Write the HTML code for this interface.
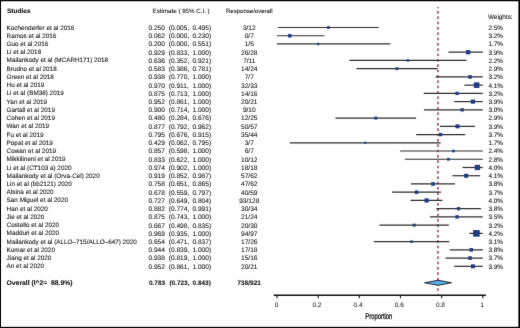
<!DOCTYPE html><html><head><meta charset="utf-8"><style>html,body{margin:0;padding:0;background:#fff;overflow:hidden}svg{display:block;will-change:transform}text{font-family:"Liberation Sans",sans-serif;fill:#111;stroke:#111;stroke-width:0.08px;text-rendering:geometricPrecision}</style></head><body>
<svg width="520" height="328" viewBox="0 0 520 328">
<defs><filter id="bl" x="0" y="0" width="1" height="1" color-interpolation-filters="sRGB"><feConvolveMatrix order="3" kernelMatrix="0.0053 0.0623 0.0053 0.0623 0.7296 0.0623 0.0053 0.0623 0.0053" edgeMode="duplicate" preserveAlpha="true"/></filter></defs><g filter="url(#bl)">
<rect x="0" y="0" width="520" height="328" fill="#000"/>
<rect x="1" y="1.25" width="517.4" height="325.6" fill="#fff"/>
<text x="6.9" y="12.5" font-size="6.55" font-weight="bold">Studies</text>
<text x="152.6" y="12.6" font-size="6.2">Estimate ( 95% C.I. )</text>
<text x="249.3" y="12.5" font-size="6.06" text-anchor="middle">Response/overall</text>
<text x="488.0" y="19.4" font-size="6.35">Weights:</text>
<line x1="437.9" y1="7.0" x2="437.9" y2="294.6" stroke="#bf2f5e" stroke-width="1.5" stroke-dasharray="2.667 2.667" stroke-dashoffset="1.33"/>
<text x="6.6" y="29.55" font-size="6.35">Kochenderfer et al 2016</text>
<text x="148.4" y="29.90" font-size="6.6">0.250</text>
<text x="168.7" y="29.90" font-size="6.6">(0.005,</text>
<text x="192.4" y="29.90" font-size="6.6">0.495)</text>
<text x="249.3" y="29.90" font-size="6.6" text-anchor="middle">3/12</text>
<text x="488.4" y="29.90" font-size="6.45">2.5%</text>
<line x1="278.03" y1="27.50" x2="378.87" y2="27.50" stroke="#2e2e2e" stroke-width="1.2"/>
<rect x="327.05" y="26.10" width="2.80" height="2.80" fill="#213d82"/>
<text x="6.6" y="37.78" font-size="6.35">Ramos et al 2016</text>
<text x="148.4" y="38.13" font-size="6.6">0.062</text>
<text x="168.7" y="38.13" font-size="6.6">(0.000,</text>
<text x="192.4" y="38.13" font-size="6.6">0.230)</text>
<text x="249.3" y="38.13" font-size="6.6" text-anchor="middle">0/7</text>
<text x="488.4" y="38.13" font-size="6.45">3.2%</text>
<line x1="277.00" y1="35.73" x2="324.33" y2="35.73" stroke="#2e2e2e" stroke-width="1.2"/>
<rect x="287.96" y="33.94" width="3.60" height="3.60" fill="#213d82"/>
<text x="6.6" y="46.02" font-size="6.35">Guo et al 2016</text>
<text x="148.4" y="46.37" font-size="6.6">0.200</text>
<text x="168.7" y="46.37" font-size="6.6">(0.000,</text>
<text x="192.4" y="46.37" font-size="6.6">0.551)</text>
<text x="249.3" y="46.37" font-size="6.6" text-anchor="middle">1/5</text>
<text x="488.4" y="46.37" font-size="6.45">1.7%</text>
<line x1="277.00" y1="43.97" x2="390.40" y2="43.97" stroke="#2e2e2e" stroke-width="1.2"/>
<rect x="316.96" y="42.77" width="2.40" height="2.40" fill="#213d82"/>
<text x="6.6" y="54.25" font-size="6.35">Li et al 2018</text>
<text x="148.4" y="54.60" font-size="6.6">0.929</text>
<text x="168.7" y="54.60" font-size="6.6">(0.833,</text>
<text x="192.4" y="54.60" font-size="6.6">1.000)</text>
<text x="249.3" y="54.60" font-size="6.6" text-anchor="middle">26/28</text>
<text x="488.4" y="54.60" font-size="6.45">3.9%</text>
<line x1="448.43" y1="52.20" x2="482.80" y2="52.20" stroke="#2e2e2e" stroke-width="1.2"/>
<rect x="466.04" y="50.05" width="4.30" height="4.30" fill="#213d82"/>
<text x="6.6" y="62.49" font-size="6.35">Mailankody et al (MCARH171) 2018</text>
<text x="148.4" y="62.84" font-size="6.6">0.636</text>
<text x="168.7" y="62.84" font-size="6.6">(0.352,</text>
<text x="192.4" y="62.84" font-size="6.6">0.921)</text>
<text x="249.3" y="62.84" font-size="6.6" text-anchor="middle">7/11</text>
<text x="488.4" y="62.84" font-size="6.45">2.2%</text>
<line x1="349.44" y1="60.44" x2="466.54" y2="60.44" stroke="#2e2e2e" stroke-width="1.2"/>
<rect x="406.64" y="59.19" width="2.50" height="2.50" fill="#213d82"/>
<text x="6.6" y="70.72" font-size="6.35">Brudno et al 2018</text>
<text x="148.4" y="71.08" font-size="6.6">0.583</text>
<text x="168.7" y="71.08" font-size="6.6">(0.386,</text>
<text x="192.4" y="71.08" font-size="6.6">0.781)</text>
<text x="249.3" y="71.08" font-size="6.6" text-anchor="middle">14/24</text>
<text x="488.4" y="71.08" font-size="6.45">2.9%</text>
<line x1="356.44" y1="68.67" x2="437.73" y2="68.67" stroke="#2e2e2e" stroke-width="1.2"/>
<rect x="395.53" y="67.22" width="2.90" height="2.90" fill="#213d82"/>
<text x="6.6" y="78.96" font-size="6.35">Green et al 2018</text>
<text x="148.4" y="79.31" font-size="6.6">0.938</text>
<text x="168.7" y="79.31" font-size="6.6">(0.770,</text>
<text x="192.4" y="79.31" font-size="6.6">1.000)</text>
<text x="249.3" y="79.31" font-size="6.6" text-anchor="middle">7/7</text>
<text x="488.4" y="79.31" font-size="6.45">3.2%</text>
<line x1="435.47" y1="76.91" x2="482.80" y2="76.91" stroke="#2e2e2e" stroke-width="1.2"/>
<rect x="468.24" y="75.11" width="3.60" height="3.60" fill="#213d82"/>
<text x="6.6" y="87.19" font-size="6.35">Hu et al 2019</text>
<text x="148.4" y="87.55" font-size="6.6">0.970</text>
<text x="168.7" y="87.55" font-size="6.6">(0.911,</text>
<text x="192.4" y="87.55" font-size="6.6">1.000)</text>
<text x="249.3" y="87.55" font-size="6.6" text-anchor="middle">32/33</text>
<text x="488.4" y="87.55" font-size="6.45">4.1%</text>
<line x1="464.48" y1="85.14" x2="482.80" y2="85.14" stroke="#2e2e2e" stroke-width="1.2"/>
<rect x="473.83" y="82.34" width="5.60" height="5.60" fill="#213d82"/>
<text x="6.6" y="95.43" font-size="6.35">Li et al (BM38) 2019</text>
<text x="148.4" y="95.78" font-size="6.6">0.875</text>
<text x="168.7" y="95.78" font-size="6.6">(0.713,</text>
<text x="192.4" y="95.78" font-size="6.6">1.000)</text>
<text x="249.3" y="95.78" font-size="6.6" text-anchor="middle">14/16</text>
<text x="488.4" y="95.78" font-size="6.45">3.2%</text>
<line x1="423.74" y1="93.38" x2="482.80" y2="93.38" stroke="#2e2e2e" stroke-width="1.2"/>
<rect x="455.43" y="91.73" width="3.30" height="3.30" fill="#213d82"/>
<text x="6.6" y="103.66" font-size="6.35">Yan et al 2019</text>
<text x="148.4" y="104.02" font-size="6.6">0.952</text>
<text x="168.7" y="104.02" font-size="6.6">(0.861,</text>
<text x="192.4" y="104.02" font-size="6.6">1.000)</text>
<text x="249.3" y="104.02" font-size="6.6" text-anchor="middle">20/21</text>
<text x="488.4" y="104.02" font-size="6.45">3.9%</text>
<line x1="454.19" y1="101.61" x2="482.80" y2="101.61" stroke="#2e2e2e" stroke-width="1.2"/>
<rect x="470.82" y="99.52" width="4.20" height="4.20" fill="#213d82"/>
<text x="6.6" y="111.90" font-size="6.35">Gartall et al 2019</text>
<text x="148.4" y="112.25" font-size="6.6">0.900</text>
<text x="168.7" y="112.25" font-size="6.6">(0.714,</text>
<text x="192.4" y="112.25" font-size="6.6">1.000)</text>
<text x="249.3" y="112.25" font-size="6.6" text-anchor="middle">9/10</text>
<text x="488.4" y="112.25" font-size="6.45">3.0%</text>
<line x1="423.94" y1="109.85" x2="482.80" y2="109.85" stroke="#2e2e2e" stroke-width="1.2"/>
<rect x="460.57" y="108.20" width="3.30" height="3.30" fill="#213d82"/>
<text x="6.6" y="120.13" font-size="6.35">Cohen et al 2019</text>
<text x="148.4" y="120.48" font-size="6.6">0.480</text>
<text x="168.7" y="120.48" font-size="6.6">(0.284,</text>
<text x="192.4" y="120.48" font-size="6.6">0.676)</text>
<text x="249.3" y="120.48" font-size="6.6" text-anchor="middle">12/25</text>
<text x="488.4" y="120.48" font-size="6.45">2.9%</text>
<line x1="335.45" y1="118.08" x2="416.12" y2="118.08" stroke="#2e2e2e" stroke-width="1.2"/>
<rect x="374.28" y="116.58" width="3.00" height="3.00" fill="#213d82"/>
<text x="6.6" y="128.37" font-size="6.35">Wan et al 2019</text>
<text x="148.4" y="128.72" font-size="6.6">0.877</text>
<text x="168.7" y="128.72" font-size="6.6">(0.792,</text>
<text x="192.4" y="128.72" font-size="6.6">0.962)</text>
<text x="249.3" y="128.72" font-size="6.6" text-anchor="middle">50/57</text>
<text x="488.4" y="128.72" font-size="6.45">3.9%</text>
<line x1="439.99" y1="126.32" x2="474.98" y2="126.32" stroke="#2e2e2e" stroke-width="1.2"/>
<rect x="455.49" y="124.32" width="4.00" height="4.00" fill="#213d82"/>
<text x="6.6" y="136.61" font-size="6.35">Fu et al 2019</text>
<text x="148.4" y="136.96" font-size="6.6">0.795</text>
<text x="168.7" y="136.96" font-size="6.6">(0.676,</text>
<text x="192.4" y="136.96" font-size="6.6">0.915)</text>
<text x="249.3" y="136.96" font-size="6.6" text-anchor="middle">35/44</text>
<text x="488.4" y="136.96" font-size="6.45">3.7%</text>
<line x1="416.12" y1="134.56" x2="465.31" y2="134.56" stroke="#2e2e2e" stroke-width="1.2"/>
<rect x="438.96" y="132.91" width="3.30" height="3.30" fill="#213d82"/>
<text x="6.6" y="144.84" font-size="6.35">Popat et al 2019</text>
<text x="148.4" y="145.19" font-size="6.6">0.429</text>
<text x="168.7" y="145.19" font-size="6.6">(0.062,</text>
<text x="192.4" y="145.19" font-size="6.6">0.795)</text>
<text x="249.3" y="145.19" font-size="6.6" text-anchor="middle">3/7</text>
<text x="488.4" y="145.19" font-size="6.45">1.7%</text>
<line x1="289.76" y1="142.79" x2="440.61" y2="142.79" stroke="#2e2e2e" stroke-width="1.2"/>
<rect x="364.19" y="141.69" width="2.20" height="2.20" fill="#213d82"/>
<text x="6.6" y="153.07" font-size="6.35">Cowan et al 2019</text>
<text x="148.4" y="153.42" font-size="6.6">0.857</text>
<text x="168.7" y="153.42" font-size="6.6">(0.598,</text>
<text x="192.4" y="153.42" font-size="6.6">1.000)</text>
<text x="249.3" y="153.42" font-size="6.6" text-anchor="middle">6/7</text>
<text x="488.4" y="153.42" font-size="6.45">2.4%</text>
<line x1="400.07" y1="151.02" x2="482.80" y2="151.02" stroke="#2e2e2e" stroke-width="1.2"/>
<rect x="452.07" y="149.72" width="2.60" height="2.60" fill="#213d82"/>
<text x="6.6" y="161.31" font-size="6.35">Mikkilineni et al 2019</text>
<text x="148.4" y="161.66" font-size="6.6">0.833</text>
<text x="168.7" y="161.66" font-size="6.6">(0.622,</text>
<text x="192.4" y="161.66" font-size="6.6">1.000)</text>
<text x="249.3" y="161.66" font-size="6.6" text-anchor="middle">10/12</text>
<text x="488.4" y="161.66" font-size="6.45">2.8%</text>
<line x1="405.01" y1="159.26" x2="482.80" y2="159.26" stroke="#2e2e2e" stroke-width="1.2"/>
<rect x="447.08" y="157.91" width="2.70" height="2.70" fill="#213d82"/>
<text x="6.6" y="169.55" font-size="6.35">Li et al (CT103 a) 2020</text>
<text x="148.4" y="169.90" font-size="6.6">0.974</text>
<text x="168.7" y="169.90" font-size="6.6">(0.902,</text>
<text x="192.4" y="169.90" font-size="6.6">1.000)</text>
<text x="249.3" y="169.90" font-size="6.6" text-anchor="middle">18/18</text>
<text x="488.4" y="169.90" font-size="6.45">4.0%</text>
<line x1="462.63" y1="167.50" x2="482.80" y2="167.50" stroke="#2e2e2e" stroke-width="1.2"/>
<rect x="474.80" y="164.84" width="5.30" height="5.30" fill="#213d82"/>
<text x="6.6" y="177.78" font-size="6.35">Mailankody et al (Orva-Cel) 2020</text>
<text x="148.4" y="178.13" font-size="6.6">0.919</text>
<text x="168.7" y="178.13" font-size="6.6">(0.852,</text>
<text x="192.4" y="178.13" font-size="6.6">0.987)</text>
<text x="249.3" y="178.13" font-size="6.6" text-anchor="middle">57/62</text>
<text x="488.4" y="178.13" font-size="6.45">4.1%</text>
<line x1="452.34" y1="175.73" x2="480.12" y2="175.73" stroke="#2e2e2e" stroke-width="1.2"/>
<rect x="464.08" y="173.68" width="4.10" height="4.10" fill="#213d82"/>
<text x="6.6" y="186.01" font-size="6.35">Lin et al (bb2121) 2020</text>
<text x="148.4" y="186.36" font-size="6.6">0.758</text>
<text x="168.7" y="186.36" font-size="6.6">(0.651,</text>
<text x="192.4" y="186.36" font-size="6.6">0.865)</text>
<text x="249.3" y="186.36" font-size="6.6" text-anchor="middle">47/62</text>
<text x="488.4" y="186.36" font-size="6.45">3.8%</text>
<line x1="410.98" y1="183.96" x2="455.02" y2="183.96" stroke="#2e2e2e" stroke-width="1.2"/>
<rect x="431.20" y="182.16" width="3.60" height="3.60" fill="#213d82"/>
<text x="6.6" y="194.25" font-size="6.35">Alsina et al 2020</text>
<text x="148.4" y="194.60" font-size="6.6">0.678</text>
<text x="168.7" y="194.60" font-size="6.6">(0.559,</text>
<text x="192.4" y="194.60" font-size="6.6">0.797)</text>
<text x="249.3" y="194.60" font-size="6.6" text-anchor="middle">40/59</text>
<text x="488.4" y="194.60" font-size="6.45">3.7%</text>
<line x1="392.04" y1="192.20" x2="441.02" y2="192.20" stroke="#2e2e2e" stroke-width="1.2"/>
<rect x="414.78" y="190.45" width="3.50" height="3.50" fill="#213d82"/>
<text x="6.6" y="202.49" font-size="6.35">San Miguel et al 2020</text>
<text x="148.4" y="202.84" font-size="6.6">0.727</text>
<text x="168.7" y="202.84" font-size="6.6">(0.649,</text>
<text x="192.4" y="202.84" font-size="6.6">0.804)</text>
<text x="249.3" y="202.84" font-size="6.6" text-anchor="middle">93/128</text>
<text x="488.4" y="202.84" font-size="6.45">4.0%</text>
<line x1="410.56" y1="200.44" x2="442.46" y2="200.44" stroke="#2e2e2e" stroke-width="1.2"/>
<rect x="424.52" y="198.34" width="4.20" height="4.20" fill="#213d82"/>
<text x="6.6" y="210.72" font-size="6.35">Han et al 2020</text>
<text x="148.4" y="211.07" font-size="6.6">0.882</text>
<text x="168.7" y="211.07" font-size="6.6">(0.774,</text>
<text x="192.4" y="211.07" font-size="6.6">0.991)</text>
<text x="249.3" y="211.07" font-size="6.6" text-anchor="middle">30/34</text>
<text x="488.4" y="211.07" font-size="6.45">3.8%</text>
<line x1="436.29" y1="208.67" x2="480.95" y2="208.67" stroke="#2e2e2e" stroke-width="1.2"/>
<rect x="456.87" y="207.02" width="3.30" height="3.30" fill="#213d82"/>
<text x="6.6" y="218.95" font-size="6.35">Jie et al 2020</text>
<text x="148.4" y="219.30" font-size="6.6">0.875</text>
<text x="168.7" y="219.30" font-size="6.6">(0.743,</text>
<text x="192.4" y="219.30" font-size="6.6">1.000)</text>
<text x="249.3" y="219.30" font-size="6.6" text-anchor="middle">21/24</text>
<text x="488.4" y="219.30" font-size="6.45">3.5%</text>
<line x1="429.91" y1="216.90" x2="482.80" y2="216.90" stroke="#2e2e2e" stroke-width="1.2"/>
<rect x="455.38" y="215.20" width="3.40" height="3.40" fill="#213d82"/>
<text x="6.6" y="227.19" font-size="6.35">Costello et al 2020</text>
<text x="148.4" y="227.54" font-size="6.6">0.667</text>
<text x="168.7" y="227.54" font-size="6.6">(0.498,</text>
<text x="192.4" y="227.54" font-size="6.6">0.835)</text>
<text x="249.3" y="227.54" font-size="6.6" text-anchor="middle">20/30</text>
<text x="488.4" y="227.54" font-size="6.45">3.2%</text>
<line x1="379.49" y1="225.14" x2="448.84" y2="225.14" stroke="#2e2e2e" stroke-width="1.2"/>
<rect x="412.77" y="223.64" width="3.00" height="3.00" fill="#213d82"/>
<text x="6.6" y="235.43" font-size="6.35">Madduri et al 2020</text>
<text x="148.4" y="235.78" font-size="6.6">0.969</text>
<text x="168.7" y="235.78" font-size="6.6">(0.935,</text>
<text x="192.4" y="235.78" font-size="6.6">1.000)</text>
<text x="249.3" y="235.78" font-size="6.6" text-anchor="middle">94/97</text>
<text x="488.4" y="235.78" font-size="6.45">4.2%</text>
<line x1="469.42" y1="233.38" x2="482.80" y2="233.38" stroke="#2e2e2e" stroke-width="1.2"/>
<rect x="473.12" y="230.07" width="6.60" height="6.60" fill="#213d82"/>
<text x="6.6" y="243.66" font-size="6.35">Mailankody et al (ALLO–715/ALLO–647) 2020</text>
<text x="148.4" y="244.01" font-size="6.6">0.654</text>
<text x="168.7" y="244.01" font-size="6.6">(0.471,</text>
<text x="192.4" y="244.01" font-size="6.6">0.837)</text>
<text x="249.3" y="244.01" font-size="6.6" text-anchor="middle">17/26</text>
<text x="488.4" y="244.01" font-size="6.45">3.1%</text>
<line x1="373.93" y1="241.61" x2="449.25" y2="241.61" stroke="#2e2e2e" stroke-width="1.2"/>
<rect x="410.34" y="240.36" width="2.50" height="2.50" fill="#213d82"/>
<text x="6.6" y="251.89" font-size="6.35">Kumar et al 2020</text>
<text x="148.4" y="252.24" font-size="6.6">0.944</text>
<text x="168.7" y="252.24" font-size="6.6">(0.839,</text>
<text x="192.4" y="252.24" font-size="6.6">1.000)</text>
<text x="249.3" y="252.24" font-size="6.6" text-anchor="middle">17/18</text>
<text x="488.4" y="252.24" font-size="6.45">3.8%</text>
<line x1="449.67" y1="249.84" x2="482.80" y2="249.84" stroke="#2e2e2e" stroke-width="1.2"/>
<rect x="469.48" y="248.04" width="3.60" height="3.60" fill="#213d82"/>
<text x="6.6" y="260.13" font-size="6.35">Jiang et al 2020</text>
<text x="148.4" y="260.48" font-size="6.6">0.938</text>
<text x="168.7" y="260.48" font-size="6.6">(0.819,</text>
<text x="192.4" y="260.48" font-size="6.6">1.000)</text>
<text x="249.3" y="260.48" font-size="6.6" text-anchor="middle">15/16</text>
<text x="488.4" y="260.48" font-size="6.45">3.7%</text>
<line x1="445.55" y1="258.08" x2="482.80" y2="258.08" stroke="#2e2e2e" stroke-width="1.2"/>
<rect x="468.24" y="256.28" width="3.60" height="3.60" fill="#213d82"/>
<text x="6.6" y="268.37" font-size="6.35">An et al 2020</text>
<text x="148.4" y="268.71" font-size="6.6">0.952</text>
<text x="168.7" y="268.71" font-size="6.6">(0.861,</text>
<text x="192.4" y="268.71" font-size="6.6">1.000)</text>
<text x="249.3" y="268.71" font-size="6.6" text-anchor="middle">20/21</text>
<text x="488.4" y="268.71" font-size="6.45">3.9%</text>
<line x1="454.19" y1="266.31" x2="482.80" y2="266.31" stroke="#2e2e2e" stroke-width="1.2"/>
<rect x="470.92" y="264.31" width="4.00" height="4.00" fill="#213d82"/>
<text x="6.6" y="284.83" font-size="6.78" font-weight="bold">Overall (I^2=&#160; 88.9%)</text>
<text x="149.0" y="284.83" font-size="6.45" font-weight="bold">0.783</text>
<text x="169.4" y="284.83" font-size="6.45" font-weight="bold">(0.723,</text>
<text x="192.6" y="284.83" font-size="6.45" font-weight="bold">0.843)</text>
<text x="249.1" y="284.83" font-size="6.6" font-weight="bold" text-anchor="middle">738/921</text>
<polygon points="424.59,282.78 438.14,280.23 451.49,282.78 438.14,285.33" fill="#5aaee8" stroke="#000" stroke-width="0.8" stroke-miterlimit="10"/>
<line x1="273.7" y1="295.2" x2="485.9" y2="295.2" stroke="#111" stroke-width="1.5"/>
<line x1="277.00" y1="295.2" x2="277.00" y2="298.2" stroke="#111" stroke-width="1.1"/>
<text x="276.50" y="306.7" font-size="6.5" text-anchor="middle" style="stroke-width:0.03px">0</text>
<line x1="318.16" y1="295.2" x2="318.16" y2="298.2" stroke="#111" stroke-width="1.1"/>
<text x="316.96" y="306.7" font-size="6.5" text-anchor="middle" style="stroke-width:0.03px">0.2</text>
<line x1="359.32" y1="295.2" x2="359.32" y2="298.2" stroke="#111" stroke-width="1.1"/>
<text x="358.12" y="306.7" font-size="6.5" text-anchor="middle" style="stroke-width:0.03px">0.4</text>
<line x1="400.48" y1="295.2" x2="400.48" y2="298.2" stroke="#111" stroke-width="1.1"/>
<text x="399.28" y="306.7" font-size="6.5" text-anchor="middle" style="stroke-width:0.03px">0.6</text>
<line x1="441.64" y1="295.2" x2="441.64" y2="298.2" stroke="#111" stroke-width="1.1"/>
<text x="440.44" y="306.7" font-size="6.5" text-anchor="middle" style="stroke-width:0.03px">0.8</text>
<line x1="482.80" y1="295.2" x2="482.80" y2="298.2" stroke="#111" stroke-width="1.1"/>
<text x="482.30" y="306.7" font-size="6.5" text-anchor="middle" style="stroke-width:0.03px">1</text>
<text x="0" y="0" font-size="8.4" text-anchor="middle" style="stroke-width:0.28px" transform="translate(378.8,318.5) scale(0.70,1)">Proportion</text>
</g></svg></body></html>
